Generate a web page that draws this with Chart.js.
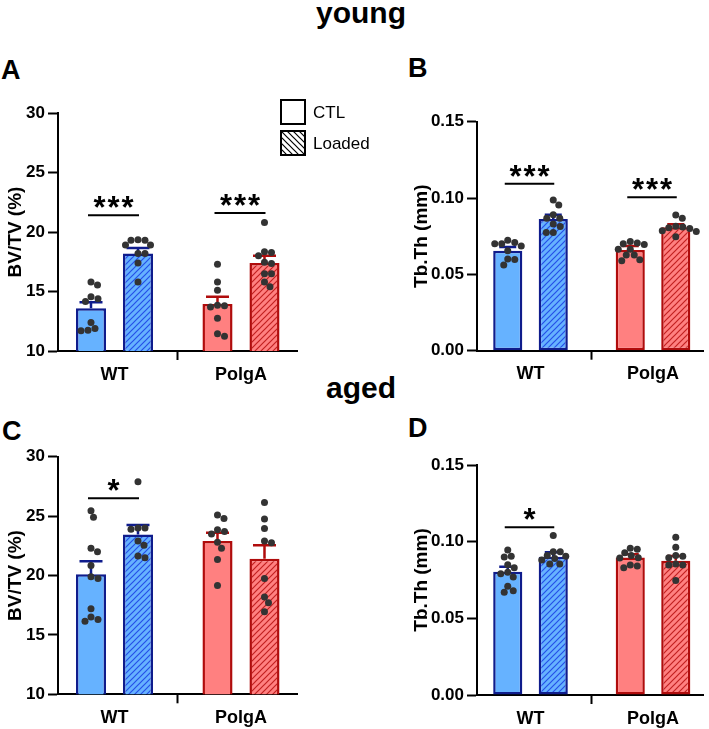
<!DOCTYPE html>
<html lang="en">
<head>
<meta charset="UTF-8">
<title>BV/TV and Tb.Th - young and aged</title>
<script src="https://cdn.jsdelivr.net/npm/chart.js"></script>
<style>
    body { margin: 0; background: #fff; font-family: Arial, "Liberation Sans", sans-serif; }
    #page { position: relative; width: 709px; height: 729px; overflow: hidden; }
    canvas { position: absolute; }
    .lbl { position: absolute; font-weight: bold; color: #000; line-height: 1; white-space: nowrap; }
    .age { font-size: 30px; left: 0; width: 722px; text-align: center; }
    .panel { font-size: 27px; }
</style>
</head>
<body>
<div id="page">
    <div class="lbl age" style="top:-2px">young</div>
    <div class="lbl age" style="top:373px">aged</div>
    <div class="lbl panel" style="left:1px; top:57px">A</div>
    <div class="lbl panel" style="left:408px; top:55px">B</div>
    <div class="lbl panel" style="left:2px; top:418px">C</div>
    <div class="lbl panel" style="left:408px; top:415px">D</div>

    <canvas id="chartA" width="380" height="300" style="left:0; top:90px"></canvas>
    <canvas id="chartB" width="329" height="300" style="left:380px; top:90px"></canvas>
    <canvas id="chartC" width="380" height="296" style="left:0; top:433px"></canvas>
    <canvas id="chartD" width="329" height="296" style="left:380px; top:433px"></canvas>
</div>

<script>
    const groups = ['WT', 'PolgA'];
    const seriesNames = ['CTL', 'Loaded'];

    // A - young BV/TV (%)
    const aMeanCtl = [13.6, 13.95];
    const aSemCtl = [0.5, 0.6];
    const aMeanLoad = [18.2, 17.4];
    const aSemLoad = [0.45, 0.6];
    const aDotsCtl = [[15.8, 15.55, 14.55, 14.4, 14.15, 12.4, 11.9, 11.75, 11.7],
                      [17.3, 15.8, 15.1, 13.85, 13.8, 13.7, 12.75, 11.45, 11.25]];
    const aDotsLoad = [[19.35, 19.3, 19.3, 18.9, 18.9, 18.2, 18.2, 17.4, 15.8],
                       [20.8, 18.35, 18.27, 18.0, 17.45, 17.35, 16.5, 16.5, 15.8, 15.4]];
    const aSigY = [21.4, 21.6];
    const aSigText = ['***', '***'];

    // B - young Tb.Th (mm)
    const bMeanCtl = [0.0655, 0.066];
    const bSemCtl = [0.0025, 0.0026];
    const bMeanLoad = [0.0863, 0.0809];
    const bSemLoad = [0.0027, 0.0019];
    const bDotsCtl = [[0.0724, 0.0708, 0.070, 0.070, 0.0685, 0.0655, 0.0601, 0.0597, 0.0562],
                      [0.0715, 0.0705, 0.070, 0.0695, 0.0665, 0.0665, 0.0627, 0.0627, 0.0595, 0.059]];
    const bDotsLoad = [[0.0987, 0.0955, 0.089, 0.0868, 0.0868, 0.083, 0.0813, 0.0775, 0.0775],
                       [0.0889, 0.0868, 0.0815, 0.081, 0.0805, 0.080, 0.0785, 0.078, 0.0747]];
    const bSigY = [0.1093, 0.1005];
    const bSigText = ['***', '***'];

    // C - aged BV/TV (%)
    const cMeanCtl = [20.1, 22.9];
    const cSemCtl = [1.1, 0.7];
    const cMeanLoad = [23.45, 21.4];
    const cSemLoad = [0.8, 1.15];
    const cDotsCtl = [[25.45, 24.9, 22.3, 22.0, 20.85, 19.9, 19.75, 17.2, 16.5, 16.3, 16.15],
                      [25.1, 24.8, 23.85, 23.7, 23.5, 22.8, 22.3, 21.35, 19.15]];
    const cDotsLoad = [[27.9, 24.0, 24.0, 23.9, 22.9, 22.55, 21.65, 21.5],
                       [26.15, 24.75, 23.95, 22.9, 22.75, 19.75, 18.2, 17.7, 16.95]];
    const cSigY = [26.5];
    const cSigText = ['*'];

    // D - aged Tb.Th (mm)
    const dMeanCtl = [0.0804, 0.0896];
    const dSemCtl = [0.0033, 0.0022];
    const dMeanLoad = [0.0902, 0.0876];
    const dSemLoad = [0.0029, 0.0031];
    const dDotsCtl = [[0.0945, 0.0905, 0.090, 0.085, 0.083, 0.080, 0.079, 0.077, 0.071, 0.068, 0.067],
                      [0.0957, 0.095, 0.0928, 0.091, 0.0895, 0.0893, 0.0848, 0.0841, 0.083]];
    const dDotsLoad = [[0.104, 0.0935, 0.0935, 0.091, 0.0905, 0.089, 0.088, 0.0855, 0.0855],
                       [0.1029, 0.0963, 0.091, 0.0905, 0.0895, 0.0855, 0.0848, 0.0848, 0.0746]];
    const dSigY = [0.1094];
    const dSigText = ['*'];

    const blueFill = '#66b2ff', blueLine = '#0f1c8c', blueHatch = '#2550e8';
    const redFill = '#ff8080', redLine = '#b00c0c', redHatch = '#c22020';
    const catPct = 0.743, barPct = 0.64;

    function hatch(bg, fg, back) {
        const c = document.createElement('canvas');
        c.width = c.height = 6;
        const g = c.getContext('2d');
        g.fillStyle = bg;
        g.fillRect(0, 0, 6, 6);
        g.strokeStyle = fg;
        g.lineWidth = 1.2;
        g.beginPath();
        if (!back) {
            g.moveTo(0, 6); g.lineTo(6, 0);
            g.moveTo(-1, 1); g.lineTo(1, -1);
            g.moveTo(5, 7); g.lineTo(7, 5);
        } else {
            g.moveTo(0, 0); g.lineTo(6, 6);
            g.moveTo(-1, 5); g.lineTo(1, 7);
            g.moveTo(5, -1); g.lineTo(7, 1);
        }
        g.stroke();
        return g.createPattern(c, 'repeat');
    }

    // simple beeswarm: pixel offsets so dots don't pile up on each other
    function swarm(values, pxPerUnit, diam) {
        const placed = [];
        const out = new Array(values.length);
        const order = values.map((v, i) => i).sort((a, b) => values[b] - values[a]);
        for (const i of order) {
            const y = values[i] * pxPerUnit;
            let off = 0;
            for (let k = 0; k < 200; k++) {
                const cand = (k % 2 ? 1 : -1) * Math.ceil(k / 2) * 0.5;
                const hit = placed.some(p => (cand - p.x) ** 2 + (y - p.y) ** 2 < diam * diam);
                if (!hit) { off = cand; break; }
            }
            placed.push({x: off, y: y});
            out[i] = off;
        }
        return out;
    }

    const errorBars = {
        id: 'errorBars',
        afterDatasetDraw(chart, args, opts) {
            const ds = chart.data.datasets[args.index];
            if (!ds.sem) return;
            const ctx = chart.ctx, y = chart.scales.y;
            args.meta.data.forEach((bar, i) => {
                const top = y.getPixelForValue(ds.data[i].y + ds.sem[i]);
                ctx.save();
                ctx.strokeStyle = ds.borderColor[i];
                ctx.lineWidth = 2.5;
                ctx.beginPath();
                ctx.moveTo(bar.x, bar.y);
                ctx.lineTo(bar.x, top);
                ctx.moveTo(bar.x - opts.cap / 2, top);
                ctx.lineTo(bar.x + opts.cap / 2, top);
                ctx.stroke();
                ctx.restore();
            });
        }
    };

    const sigMarks = {
        id: 'sigMarks',
        afterDraw(chart, args, opts) {
            const ctx = chart.ctx, y = chart.scales.y;
            const m0 = chart.getDatasetMeta(0), m1 = chart.getDatasetMeta(1);
            opts.ys.forEach((val, i) => {
                const g = opts.groups[i];
                const x1 = m0.data[g].x - 3, x2 = m1.data[g].x + 1;
                const py = y.getPixelForValue(val);
                ctx.save();
                ctx.strokeStyle = '#000';
                ctx.lineWidth = 2;
                ctx.beginPath();
                ctx.moveTo(x1, py);
                ctx.lineTo(x2, py);
                ctx.stroke();
                ctx.fillStyle = '#000';
                ctx.font = 'bold 31px Arial, "Liberation Sans"';
                ctx.textAlign = 'center';
                ctx.textBaseline = 'alphabetic';
                const txt = opts.texts[i];
                const mid = (x1 + x2) / 2;
                for (let k = 0; k < txt.length; k++) {
                    ctx.fillText(txt[k], mid + (k - (txt.length - 1) / 2) * 14, py + 3);
                }
                ctx.restore();
            });
        }
    };

    const boxLegend = {
        id: 'boxLegend',
        afterDraw(chart, args, opts) {
            if (!opts.show) return;
            const ctx = chart.ctx;
            const fills = ['#ffffff', hatch('#ffffff', '#000000', true)];
            seriesNames.forEach((name, i) => {
                const bx = opts.x, by = opts.y + i * 31;
                ctx.save();
                ctx.fillStyle = fills[i];
                ctx.fillRect(bx, by, 24, 24);
                ctx.strokeStyle = '#000';
                ctx.lineWidth = 2;
                ctx.strokeRect(bx, by, 24, 24);
                ctx.fillStyle = '#000';
                ctx.font = '17px Arial, "Liberation Sans"';
                ctx.textAlign = 'left';
                ctx.textBaseline = 'middle';
                ctx.fillText(name, bx + 32, by + 13);
                ctx.restore();
            });
        }
    };

    function makePanel(id, p) {
        const dotPoints = [];
        [p.dotsCtl, p.dotsLoad].forEach((set, s) => {
            set.forEach((vals, g) => {
                const offs = swarm(vals, p.pxPerUnit, 7);
                const center = g + (s === 0 ? -1 : 1) * catPct / 4;
                vals.forEach((v, k) => dotPoints.push({x: center + offs[k] / p.pxPerGroup, y: v}));
            });
        });

        const tickFont = {family: 'Arial, "Liberation Sans"', size: 17, weight: 'bold'};

        new Chart(document.getElementById(id), {
            type: 'bar',
            data: {
                datasets: [
                    {
                        label: seriesNames[0],
                        data: groups.map((g, i) => ({x: i, y: p.meanCtl[i]})),
                        sem: p.semCtl,
                        backgroundColor: [blueFill, redFill],
                        borderColor: [blueLine, redLine],
                        borderWidth: 2.5,
                        borderSkipped: false,
                        categoryPercentage: catPct,
                        barPercentage: barPct,
                        order: 1
                    },
                    {
                        label: seriesNames[1],
                        data: groups.map((g, i) => ({x: i, y: p.meanLoad[i]})),
                        sem: p.semLoad,
                        backgroundColor: [hatch(blueFill, blueHatch, false), hatch(redFill, redHatch, false)],
                        borderColor: [blueLine, redLine],
                        borderWidth: 2.5,
                        borderSkipped: false,
                        categoryPercentage: catPct,
                        barPercentage: barPct,
                        order: 1
                    },
                    {
                        type: 'scatter',
                        data: dotPoints,
                        pointRadius: 3.5,
                        pointBackgroundColor: '#333333',
                        pointBorderWidth: 0,
                        order: 0
                    }
                ]
            },
            options: {
                responsive: false,
                animation: false,
                layout: {padding: {top: p.padTop, right: p.padRight, left: 0, bottom: 0}},
                plugins: {
                    legend: {display: false},
                    tooltip: {enabled: false},
                    errorBars: {cap: p.cap},
                    sigMarks: {ys: p.sigY, texts: p.sigText, groups: p.sigY.map((v, i) => i)},
                    boxLegend: {show: !!p.legend, x: 281, y: 10}
                },
                scales: {
                    x: {
                        type: 'linear',
                        min: p.xMin,
                        max: p.xMax,
                        offset: false,
                        afterBuildTicks: s => { s.ticks = groups.map((g, i) => ({value: i})); },
                        afterFit: s => { s.height = p.xH; },
                        ticks: {
                            callback: v => groups[v],
                            font: {family: 'Arial, "Liberation Sans"', size: 18, weight: 'bold'},
                            color: '#000',
                            padding: 4,
                            maxRotation: 0,
                            autoSkip: false
                        },
                        grid: {drawOnChartArea: false, drawTicks: true, tickLength: 9, tickWidth: 2, tickColor: '#000'},
                        border: {display: true, color: '#000', width: 2}
                    },
                    y: {
                        min: p.yMin,
                        max: p.yMax,
                        afterFit: s => { s.width = p.yW; },
                        ticks: {
                            stepSize: p.step,
                            callback: v => p.fmt(v),
                            font: tickFont,
                            color: '#000',
                            padding: 3
                        },
                        grid: {drawOnChartArea: false, drawTicks: true, tickLength: 10, tickWidth: 2, tickColor: '#000'},
                        border: {display: true, color: '#000', width: 2},
                        title: {
                            display: true,
                            text: p.yTitle,
                            color: '#000',
                            font: {family: 'Arial, "Liberation Sans"', size: 19, weight: 'bold'},
                            padding: {top: p.titlePad, bottom: 0}
                        }
                    }
                }
            },
            plugins: [errorBars, sigMarks, boxLegend]
        });
    }

    const bvAxis = {yMin: 10, yMax: 30, step: 5, fmt: v => String(v), yTitle: 'BV/TV (%)',
                    yW: 58, padRight: 83, titlePad: 4.6, xMin: -0.4466, xMax: 1.4427,
                    pxPerUnit: 11.9, pxPerGroup: 126.5, cap: 23};
    const thAxis = {yMin: 0, yMax: 0.15, step: 0.05, fmt: v => v.toFixed(2), yTitle: 'Tb.Th (mm)',
                    yW: 97, padRight: 6, titlePad: 30, xMin: -0.4367, xMax: 1.408,
                    pxPerUnit: 1526, pxPerGroup: 122.5, cap: 17};

    makePanel('chartA', Object.assign({}, bvAxis, {
        padTop: 23, xH: 39, legend: true,
        meanCtl: aMeanCtl, semCtl: aSemCtl, meanLoad: aMeanLoad, semLoad: aSemLoad,
        dotsCtl: aDotsCtl, dotsLoad: aDotsLoad, sigY: aSigY, sigText: aSigText
    }));
    makePanel('chartB', Object.assign({}, thAxis, {
        padTop: 31.7, xH: 39.3,
        meanCtl: bMeanCtl, semCtl: bSemCtl, meanLoad: bMeanLoad, semLoad: bSemLoad,
        dotsCtl: bDotsCtl, dotsLoad: bDotsLoad, sigY: bSigY, sigText: bSigText
    }));
    makePanel('chartC', Object.assign({}, bvAxis, {
        padTop: 23.7, xH: 34.7,
        meanCtl: cMeanCtl, semCtl: cSemCtl, meanLoad: cMeanLoad, semLoad: cSemLoad,
        dotsCtl: cDotsCtl, dotsLoad: cDotsLoad, sigY: cSigY, sigText: cSigText
    }));
    makePanel('chartD', Object.assign({}, thAxis, {
        padTop: 32, xH: 34,
        meanCtl: dMeanCtl, semCtl: dSemCtl, meanLoad: dMeanLoad, semLoad: dSemLoad,
        dotsCtl: dDotsCtl, dotsLoad: dDotsLoad, sigY: dSigY, sigText: dSigText
    }));
</script>
</body>
</html>
